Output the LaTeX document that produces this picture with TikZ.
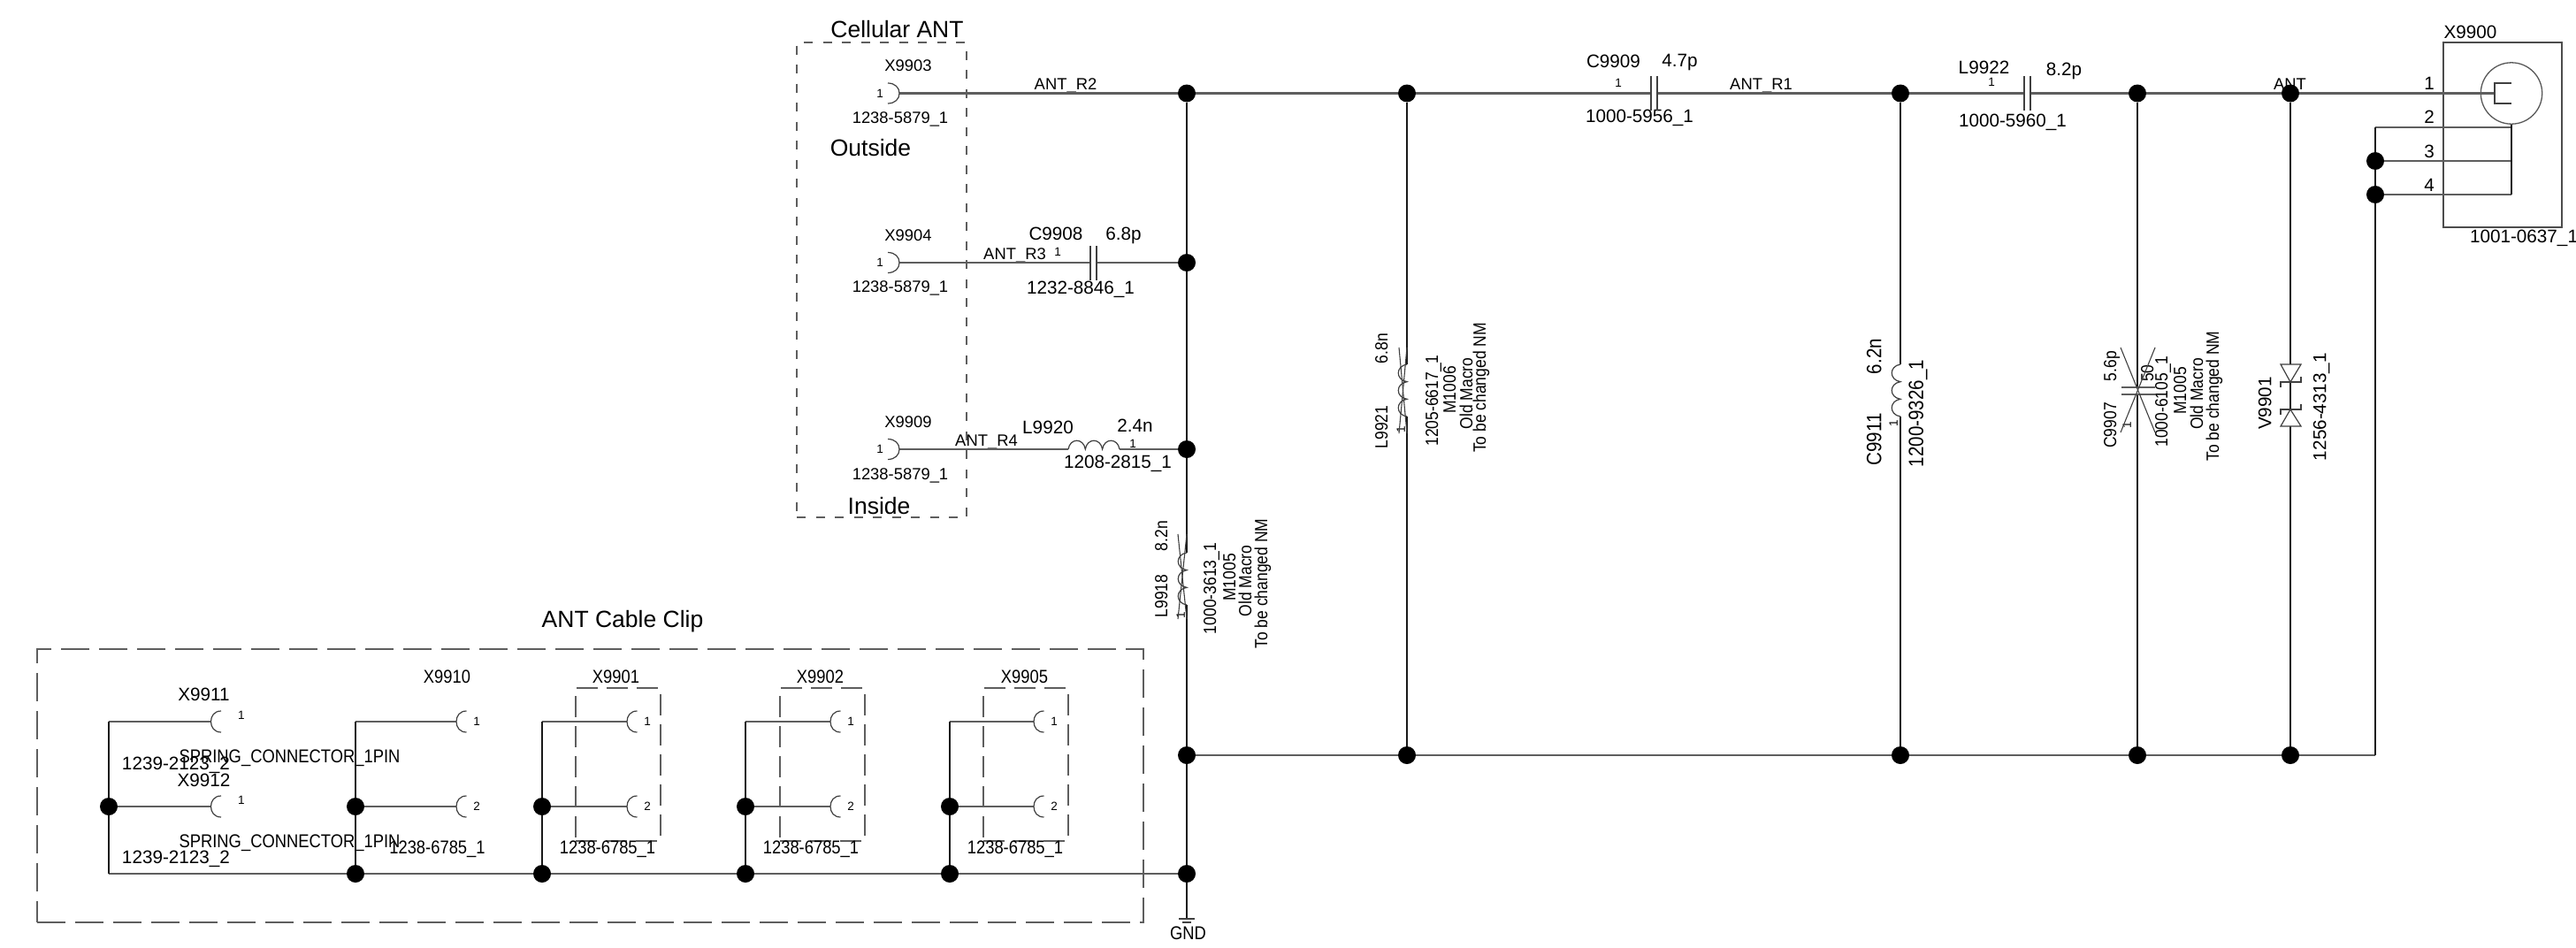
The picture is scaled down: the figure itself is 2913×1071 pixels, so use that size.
\documentclass[tikz,border=0pt]{standalone}
\usepackage{fontspec}
\setmainfont{Liberation Sans}
\newfontfamily\narrowf[FakeStretch=0.875]{Liberation Sans}
\tikzset{
  x=1pt,y=-1pt,
  t12/.style={inner sep=0,font=\fontsize{13.5}{15}\selectfont,text height=9.7pt,text depth=0pt},
  t175/.style={inner sep=0,font=\narrowf\fontsize{20}{22}\selectfont,text height=14.3pt,text depth=0pt},
  t18/.style={inner sep=0,font=\fontsize{18.4}{20}\selectfont,text height=13.2pt,text depth=0pt},
  t18n/.style={inner sep=0,font=\narrowf\fontsize{21}{23}\selectfont,text height=15pt,text depth=0pt},
  t21/.style={inner sep=0,font=\fontsize{20.7}{22}\selectfont,text height=14.8pt,text depth=0pt},
  t21n/.style={inner sep=0,font=\narrowf\fontsize{23.5}{25}\selectfont,text height=16.8pt,text depth=0pt},
  t26/.style={inner sep=0,font=\fontsize{26.5}{28}\selectfont,text height=19pt,text depth=0pt},
  rot/.style={rotate=90},
  dot/.style={circle,fill=black,draw=none,inner sep=0,minimum size=20pt},
  hw/.style={line width=2.2pt,draw=wgray},
  vw/.style={line width=1.3pt,draw=black!90},
  sym/.style={line width=1.2pt,draw=black!75},
  dsm/.style={draw=wgray,line width=1.5pt,dash pattern=on 10pt off 11.5pt},
  dbig/.style={draw=wgray,line width=1.8pt,dash pattern=on 32pt off 11pt},
  dsub/.style={draw=wgray,line width=1.5pt,dash pattern=on 24pt off 10pt},
  pinr/.pic={\draw[sym] (-13,-11.5) .. controls (-5,-11.5) and (0,-6.5) .. (0,0) .. controls (0,6.5) and (-5,11.5) .. (-13,11.5);},
  pinl/.pic={\draw[sym] (11.5,-12) .. controls (4,-12) and (0,-6.5) .. (0,0) .. controls (0,6.5) and (4,12) .. (11.5,12);},
  indh/.pic={\draw[sym] (0,0) .. controls (2,-13) and (17.3,-13) .. (19.3,0) .. controls (21.3,-13) and (36.6,-13) .. (38.6,0) .. controls (40.6,-13) and (56,-13) .. (58,0);},
  indv/.pic={\draw[sym] (0,0) .. controls (-13,2) and (-13,17.5) .. (0,19.7) .. controls (-13,21.7) and (-13,37.3) .. (0,39.3) .. controls (-13,41.3) and (-13,57) .. (0,59);},
}
\definecolor{wgray}{HTML}{5E5E5E}
\begin{document}
\begin{tikzpicture}
\useasboundingbox (0,0) rectangle (2913,1071);
\fill[white] (0,0) rectangle (2913,1071);

% enclosing boxes
\node[dsm,inner sep=0,minimum width=192pt,minimum height=537pt] (boxcell) at (997,316.5) {};
\node[dbig,inner sep=0,minimum width=1251pt,minimum height=309pt] (boxclip) at (667.5,888.5) {};
\node[dsub,inner sep=0,minimum width=96pt,minimum height=173pt] (box01) at (699,864.5) {};
\node[dsub,inner sep=0,minimum width=96pt,minimum height=173pt] (box02) at (930,864.5) {};
\node[dsub,inner sep=0,minimum width=96pt,minimum height=173pt] (box05) at (1160,864.5) {};
\node[draw=black!70,line width=1.5pt,inner sep=0,minimum width=134pt,minimum height=209pt] (box00) at (2830,152.5) {};
\node[draw=black!65,line width=1.3pt,circle,inner sep=0,minimum size=69.4pt] (coax) at (2840,105.5) {};

% texts: cellular block
\node[t26] (tcell) at (1014.5,33) {Cellular ANT};
\node[t18] (tx03) at (1027,74) {X9903};
\node[t12] (tx03p) at (995,106) {1};
\node[t18] (tx03n) at (1018,133) {1238-5879\_1};
\node[t26] (tout) at (984.5,167) {Outside};
\node[t18] (tr2) at (1205,95) {ANT\_R2};
\node[t18] (tx04) at (1027,266) {X9904};
\node[t12] (tx04p) at (995,297) {1};
\node[t18] (tx04n) at (1018,324) {1238-5879\_1};
\node[t18] (tr3) at (1147.5,287) {ANT\_R3};
\node[t12] (tc08p) at (1196,285) {1};
\node[t21] (tc08) at (1194,264) {C9908};
\node[t21] (tc08v) at (1270.5,264) {6.8p};
\node[t21] (tc08n) at (1222,325) {1232-8846\_1};
\node[t18] (tx09) at (1027,477) {X9909};
\node[t12] (tx09p) at (995,508) {1};
\node[t18] (tx09n) at (1018,536) {1238-5879\_1};
\node[t18] (tr4) at (1115.5,498) {ANT\_R4};
\node[t21] (tl20) at (1185,483) {L9920};
\node[t21] (tl20v) at (1283.5,481) {2.4n};
\node[t12] (tl20p) at (1281,502) {1};
\node[t21] (tl20n) at (1264,522) {1208-2815\_1};
\node[t26] (tin) at (994,572) {Inside};

% texts: top line
\node[t21] (tc09) at (1824.5,69) {C9909};
\node[t21] (tc09v) at (1899.5,68) {4.7p};
\node[t12] (tc09p) at (1830,94) {1};
\node[t21] (tc09n) at (1854,131) {1000-5956\_1};
\node[t18] (tr1) at (1991.5,95) {ANT\_R1};
\node[t21] (tl22) at (2243.5,76) {L9922};
\node[t12] (tl22p) at (2252,93) {1};
\node[t21] (tl22v) at (2334,78) {8.2p};
\node[t21] (tl22n) at (2276,136) {1000-5960\_1};
\node[t18] (tant) at (2589.5,95) {ANT};
\node[t21] (tp1) at (2747,94) {1};
\node[t21] (tp2) at (2747,132) {2};
\node[t21] (tp3) at (2747,171) {3};
\node[t21] (tp4) at (2747,209) {4};
\node[t21] (tx00) at (2793.5,36) {X9900};
\node[t21] (tx00n) at (2854,267) {1001-0637\_1};

% texts: L9918
\node[t175,rot] (tl18) at (1313,674) {L9918};
\node[t175,rot] (tl18v) at (1313,606) {8.2n};
\node[t12,rot] (tl18p) at (1335,696) {1};
\node[t175,rot] (tl18n) at (1368,665.5) {1000-3613\_1};
\node[t175,rot] (tl18a) at (1390,653) {M1005};
\node[t175,rot] (tl18b) at (1408,657) {Old Macro};
\node[t175,rot] (tl18c) at (1426,660) {To be changed NM};
% texts: L9921
\node[t175,rot] (tl21) at (1562,483) {L9921};
\node[t175,rot] (tl21v) at (1562,394) {6.8n};
\node[t12,rot] (tl21p) at (1584,486) {1};
\node[t175,rot] (tl21n) at (1619,453) {1205-6617\_1};
\node[t175,rot] (tl21a) at (1639,441) {M1006};
\node[t175,rot] (tl21b) at (1658,445) {Old Macro};
\node[t175,rot] (tl21c) at (1673,438.5) {To be changed NM};
% texts: C9911
\node[t21n,rot] (tc11) at (2119,497) {C9911};
\node[t21n,rot] (tc11v) at (2119,403) {6.2n};
\node[t12,rot] (tc11p) at (2141,479) {1};
\node[t21n,rot] (tc11n) at (2166.5,467.5) {1200-9326\_1};
% texts: C9907
\node[t175,rot] (tc07) at (2386,481) {C9907};
\node[t175,rot] (tc07v) at (2386,414) {5.6p};
\node[t175,rot] (tc07w) at (2428,422) {50};
\node[t12,rot] (tc07p) at (2405,481) {1};
\node[t175,rot] (tc07n) at (2444,454) {1000-6105\_1};
\node[t175,rot] (tc07a) at (2465,442) {M1005};
\node[t175,rot] (tc07b) at (2484,445.5) {Old Macro};
\node[t175,rot] (tc07c) at (2502,448) {To be changed NM};
% texts: V9901
\node[t21,rot] (tv01) at (2561,456) {V9901};
\node[t21,rot] (tv01n) at (2623,460) {1256-4313\_1};

% texts: cable clip block
\node[t26] (tclip) at (704,700) {ANT Cable Clip};
\node[t21] (tx11) at (230.5,785) {X9911};
\node[t12] (tx11p) at (273,809) {1};
\node[t18n] (tsp1) at (327.5,855) {SPRING\_CONNECTOR\_1PIN};
\node[t21] (tx11n) at (199,863) {1239-2123\_2};
\node[t21] (tx12) at (230.5,882) {X9912};
\node[t12] (tx12p) at (273,905) {1};
\node[t18n] (tsp2) at (327.5,951) {SPRING\_CONNECTOR\_1PIN};
\node[t21] (tx12n) at (199,969) {1239-2123\_2};
\node[t18n] (tx10) at (505.5,765) {X9910};
\node[t12] (tx10a) at (539,816) {1};
\node[t12] (tx10b) at (539,912) {2};
\node[t18n] (tx10n) at (494.5,958) {1238-6785\_1};
\node[t18n] (tx01) at (696.5,765) {X9901};
\node[t12] (tx01a) at (732,816) {1};
\node[t12] (tx01b) at (732,912) {2};
\node[t18n] (tx01n) at (687,958) {1238-6785\_1};
\node[t18n] (tx02) at (927.5,765) {X9902};
\node[t12] (tx02a) at (962,816) {1};
\node[t12] (tx02b) at (962,912) {2};
\node[t18n] (tx02n) at (917,958) {1238-6785\_1};
\node[t18n] (tx05) at (1158.5,765) {X9905};
\node[t12] (tx05a) at (1192,816) {1};
\node[t12] (tx05b) at (1192,912) {2};
\node[t18n] (tx05n) at (1148,958) {1238-6785\_1};
\node[t18n] (tgnd) at (1343.5,1055) {GND};

% junctions
\node[dot] (ja1) at (1342,105.5) {};
\node[dot] (ja2) at (1591,105.5) {};
\node[dot] (ja3) at (2149,105.5) {};
\node[dot] (ja4) at (2417,105.5) {};
\node[dot] (ja5) at (2590,105.5) {};
\node[dot] (jr3) at (1342,297) {};
\node[dot] (jr4) at (1342,508) {};
\node[dot] (jb1) at (1342,854) {};
\node[dot] (jb2) at (1591,854) {};
\node[dot] (jb3) at (2149,854) {};
\node[dot] (jb4) at (2417,854) {};
\node[dot] (jb5) at (2590,854) {};
\node[dot] (jg1) at (1342,988) {};
\node[dot] (js3) at (2686,182) {};
\node[dot] (js4) at (2686,220) {};
\node[dot] (jm1) at (123,912) {};
\node[dot] (jm2) at (402,912) {};
\node[dot] (jm3) at (613,912) {};
\node[dot] (jm4) at (843,912) {};
\node[dot] (jm5) at (1074,912) {};
\node[dot] (jd2) at (402,988) {};
\node[dot] (jd3) at (613,988) {};
\node[dot] (jd4) at (843,988) {};
\node[dot] (jd5) at (1074,988) {};

% coordinates
\coordinate (x03) at (1017,105.5);
\coordinate (x04) at (1017,297);
\coordinate (x09) at (1017,508);
\coordinate (c08a) at (1233,297);
\coordinate (c08b) at (1240,297);
\coordinate (l20a) at (1208,508);
\coordinate (l20b) at (1266,508);
\coordinate (c09a) at (1867,105.5);
\coordinate (c09b) at (1874,105.5);
\coordinate (l22a) at (2289,105.5);
\coordinate (l22b) at (2296,105.5);
\coordinate (brk) at (2821,105.5);
\coordinate (p2l) at (2686,144);
\coordinate (p2r) at (2840,144);
\coordinate (p3r) at (2840,182);
\coordinate (p4r) at (2840,220);
\coordinate (be) at (2686,854);
\coordinate (l18a) at (1342,625);
\coordinate (l18b) at (1342,684);
\coordinate (l21a) at (1591,412);
\coordinate (l21b) at (1591,471);
\coordinate (c11a) at (2149,412);
\coordinate (c11b) at (2149,471);
\coordinate (c07a) at (2417,438);
\coordinate (c07b) at (2417,446);
\coordinate (v1a) at (2590,412);
\coordinate (v1b) at (2590,432);
\coordinate (v2a) at (2590,463);
\coordinate (v2b) at (2590,482);
\coordinate (gnd) at (1342,1039);
\coordinate (cl1) at (123,816);
\coordinate (cd1) at (123,988);
\coordinate (s11) at (238.5,816);
\coordinate (s12) at (238.5,912);
\coordinate (cl2) at (402,816);
\coordinate (s21) at (516,816);
\coordinate (s22) at (516,912);
\coordinate (cl3) at (613,816);
\coordinate (s31) at (709,816);
\coordinate (s32) at (709,912);
\coordinate (cl4) at (843,816);
\coordinate (s41) at (939,816);
\coordinate (s42) at (939,912);
\coordinate (cl5) at (1074,816);
\coordinate (s51) at (1169,816);
\coordinate (s52) at (1169,912);

% horizontal wires
\draw[hw] (x03) -- (ja1);
\draw[hw] (ja1) -- (ja2);
\draw[hw] (ja2) -- (c09a);
\draw[hw] (c09b) -- (ja3);
\draw[hw] (ja3) -- (l22a);
\draw[hw] (l22b) -- (ja4);
\draw[hw] (ja4) -- (ja5);
\draw[hw] (ja5) -- (brk);
\draw[hw] (x04) -- (c08a);
\draw[hw] (c08b) -- (jr3);
\draw[hw] (x09) -- (l20a);
\draw[hw] (l20b) -- (jr4);
\draw[hw] (jb1) -- (jb2);
\draw[hw] (jb2) -- (jb3);
\draw[hw] (jb3) -- (jb4);
\draw[hw] (jb4) -- (jb5);
\draw[hw] (jb5) -- (be);
\draw[hw] (p2l) -- (p2r);
\draw[hw] (js3) -- (p3r);
\draw[hw] (js4) -- (p4r);
\draw[hw] (cd1) -- (jd2);
\draw[hw] (jd2) -- (jd3);
\draw[hw] (jd3) -- (jd4);
\draw[hw] (jd4) -- (jd5);
\draw[hw] (jd5) -- (jg1);
\draw[hw] (cl1) -- (s11);
\draw[hw] (jm1) -- (s12);
\draw[hw] (cl2) -- (s21);
\draw[hw] (jm2) -- (s22);
\draw[hw] (cl3) -- (s31);
\draw[hw] (jm3) -- (s32);
\draw[hw] (cl4) -- (s41);
\draw[hw] (jm4) -- (s42);
\draw[hw] (cl5) -- (s51);
\draw[hw] (jm5) -- (s52);

% vertical wires
\draw[vw] (ja1) -- (jr3);
\draw[vw] (jr3) -- (jr4);
\draw[vw] (jr4) -- (l18a);
\draw[vw] (l18b) -- (jb1);
\draw[vw] (jb1) -- (jg1);
\draw[vw] (jg1) -- (gnd);
\draw[vw] (ja2) -- (l21a);
\draw[vw] (l21b) -- (jb2);
\draw[vw] (ja3) -- (c11a);
\draw[vw] (c11b) -- (jb3);
\draw[vw] (ja4) -- (c07a);
\draw[vw] (c07b) -- (jb4);
\draw[vw] (ja5) -- (v1a);
\draw[vw] (v1b) -- (v2a);
\draw[vw] (v2b) -- (jb5);
\draw[vw] (p2l) -- (js3);
\draw[vw] (js3) -- (js4);
\draw[vw] (js4) -- (be);
\draw[vw] (coax.south) -- (p2r);
\draw[vw] (p2r) -- (p3r);
\draw[vw] (p3r) -- (p4r);
\draw[vw] (cl1) -- (jm1);
\draw[vw] (jm1) -- (cd1);
\draw[vw] (cl2) -- (jm2);
\draw[vw] (jm2) -- (jd2);
\draw[vw] (cl3) -- (jm3);
\draw[vw] (jm3) -- (jd3);
\draw[vw] (cl4) -- (jm4);
\draw[vw] (jm4) -- (jd4);
\draw[vw] (cl5) -- (jm5);
\draw[vw] (jm5) -- (jd5);

% connector symbols
\pic at (x03) {pinr};
\pic at (x04) {pinr};
\pic at (x09) {pinr};
\pic at (s11) {pinl};
\pic at (s12) {pinl};
\pic at (s21) {pinl};
\pic at (s22) {pinl};
\pic at (s31) {pinl};
\pic at (s32) {pinl};
\pic at (s41) {pinl};
\pic at (s42) {pinl};
\pic at (s51) {pinl};
\pic at (s52) {pinl};

% capacitors
\draw[sym] (1233,278) -- (1233,317);
\draw[sym] (1240,278) -- (1240,317);
\draw[sym] (1867,86) -- (1867,125);
\draw[sym] (1874,86) -- (1874,125);
\draw[sym] (2289,86) -- (2289,125);
\draw[sym] (2296,86) -- (2296,125);
\draw[hw,line width=1.6pt] (2399,438) -- (2437,438);
\draw[hw,line width=1.6pt] (2399,446) -- (2437,446);
\draw[sym,line width=1.1pt] (2398,393) -- (2437,489);
\draw[sym,line width=1.1pt] (2437,393) -- (2398,489);

% inductors
\pic at (l20a) {indh};
\pic at (l18a) {indv};
\pic at (l21a) {indv};
\pic at (c11a) {indv};
\draw[sym,line width=1.1pt] (1332,604) -- (1342,700);
\draw[sym,line width=1.1pt] (1342,604) -- (1332,700);
\draw[sym,line width=1.1pt] (1582,393) -- (1591,490);
\draw[sym,line width=1.1pt] (1591,393) -- (1582,490);

% diodes
\draw[sym] (2579,412) -- (2602,412) -- (2590,432) -- cycle;
\draw[sym] (2579,482) -- (2602,482) -- (2590,463) -- cycle;
\draw[sym] (2579,438) -- (2579,432) -- (2602,432) -- (2602,426);
\draw[sym] (2579,469) -- (2579,463) -- (2602,463) -- (2602,457);

% coax inner bracket
\draw[sym] (2840,94) -- (2821,94) -- (2821,117) -- (2840,117);

% GND bars
\draw[sym] (1333,1039) -- (1351,1039);
\draw[sym] (1337,1043) -- (1347,1043);
\end{tikzpicture}
\end{document}
